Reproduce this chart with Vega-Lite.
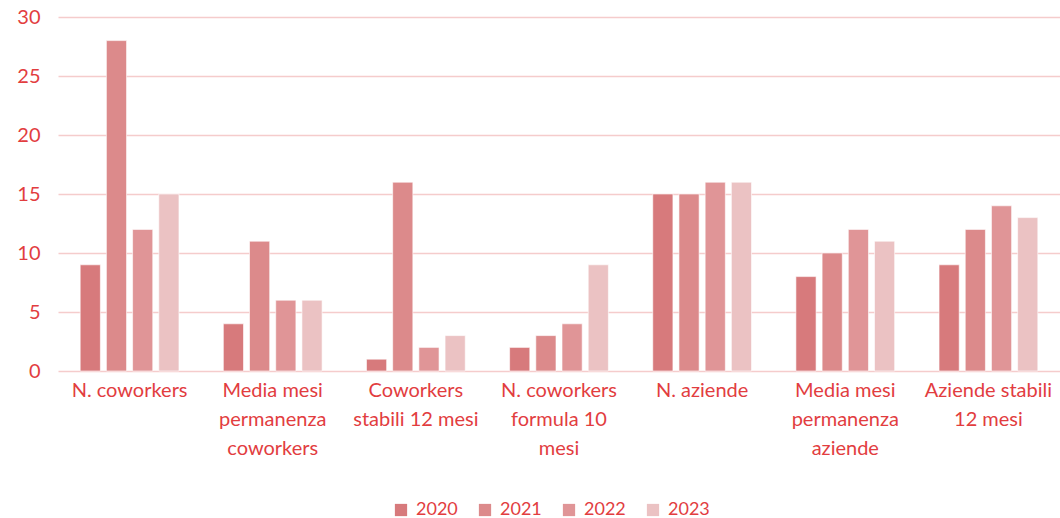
{
  "$schema": "https://vega.github.io/schema/vega-lite/v6.json",
  "width": 1002,
  "height": 354,
  "autosize": {"type": "none"},
  "padding": {"left": 58, "top": 17, "right": 0, "bottom": 147},
  "background": "white",
  "config": {
    "font": "Lato",
    "view": {"stroke": null}
  },
  "data": {
    "values": [
      {"cat": "N. coworkers", "year": "2020", "value": 9},
      {"cat": "N. coworkers", "year": "2021", "value": 28},
      {"cat": "N. coworkers", "year": "2022", "value": 12},
      {"cat": "N. coworkers", "year": "2023", "value": 15},
      {"cat": "Media mesi permanenza coworkers", "year": "2020", "value": 4},
      {"cat": "Media mesi permanenza coworkers", "year": "2021", "value": 11},
      {"cat": "Media mesi permanenza coworkers", "year": "2022", "value": 6},
      {"cat": "Media mesi permanenza coworkers", "year": "2023", "value": 6},
      {"cat": "Coworkers stabili 12 mesi", "year": "2020", "value": 1},
      {"cat": "Coworkers stabili 12 mesi", "year": "2021", "value": 16},
      {"cat": "Coworkers stabili 12 mesi", "year": "2022", "value": 2},
      {"cat": "Coworkers stabili 12 mesi", "year": "2023", "value": 3},
      {"cat": "N. coworkers formula 10 mesi", "year": "2020", "value": 2},
      {"cat": "N. coworkers formula 10 mesi", "year": "2021", "value": 3},
      {"cat": "N. coworkers formula 10 mesi", "year": "2022", "value": 4},
      {"cat": "N. coworkers formula 10 mesi", "year": "2023", "value": 9},
      {"cat": "N. aziende", "year": "2020", "value": 15},
      {"cat": "N. aziende", "year": "2021", "value": 15},
      {"cat": "N. aziende", "year": "2022", "value": 16},
      {"cat": "N. aziende", "year": "2023", "value": 16},
      {"cat": "Media mesi permanenza aziende", "year": "2020", "value": 8},
      {"cat": "Media mesi permanenza aziende", "year": "2021", "value": 10},
      {"cat": "Media mesi permanenza aziende", "year": "2022", "value": 12},
      {"cat": "Media mesi permanenza aziende", "year": "2023", "value": 11},
      {"cat": "Aziende stabili 12 mesi", "year": "2020", "value": 9},
      {"cat": "Aziende stabili 12 mesi", "year": "2021", "value": 12},
      {"cat": "Aziende stabili 12 mesi", "year": "2022", "value": 14},
      {"cat": "Aziende stabili 12 mesi", "year": "2023", "value": 13}
    ]
  },
  "mark": {"type": "bar", "stroke": "#ffffff", "strokeOpacity": 0.6, "strokeWidth": 1},
  "encoding": {
    "x": {
      "field": "cat",
      "type": "nominal",
      "sort": null,
      "scale": {"paddingInner": 0.31, "paddingOuter": 0.155},
      "axis": {
        "title": null,
        "labelAngle": 0,
        "domain": false,
        "ticks": false,
        "labelPadding": 9,
        "labelFontSize": 20,
        "labelColor": "#e23d3f",
        "labelLineHeight": 29,
        "labelBaseline": "top",
        "labelExpr": "datum.value == 'Media mesi permanenza coworkers' ? ['Media mesi', 'permanenza', 'coworkers'] : datum.value == 'Coworkers stabili 12 mesi' ? ['Coworkers', 'stabili 12 mesi'] : datum.value == 'N. coworkers formula 10 mesi' ? ['N. coworkers', 'formula 10', 'mesi'] : datum.value == 'Media mesi permanenza aziende' ? ['Media mesi', 'permanenza', 'aziende'] : datum.value == 'Aziende stabili 12 mesi' ? ['Aziende stabili', '12 mesi'] : datum.value"
      }
    },
    "xOffset": {
      "field": "year",
      "type": "nominal",
      "scale": {"paddingInner": 0.23}
    },
    "y": {
      "field": "value",
      "type": "quantitative",
      "scale": {"domain": [0, 30]},
      "axis": {
        "title": null,
        "values": [0, 5, 10, 15, 20, 25, 30],
        "domain": false,
        "ticks": false,
        "labelPadding": 18,
        "labelFontSize": 20,
        "labelColor": "#e23d3f",
        "gridColor": "#f5cccc",
        "gridWidth": 1.5
      }
    },
    "color": {
      "field": "year",
      "type": "nominal",
      "scale": {
        "domain": ["2020", "2021", "2022", "2023"],
        "range": ["#d77a7c", "#dc8a8b", "#e09597", "#ebc2c3"]
      },
      "legend": {
        "title": null,
        "orient": "none",
        "direction": "horizontal",
        "legendX": 334,
        "legendY": 484,
        "symbolType": "square",
        "symbolSize": 150,
        "symbolStrokeWidth": 0,
        "labelFontSize": 18,
        "labelColor": "#e23d3f",
        "columnPadding": 18,
        "labelOffset": 6
      }
    }
  }
}
